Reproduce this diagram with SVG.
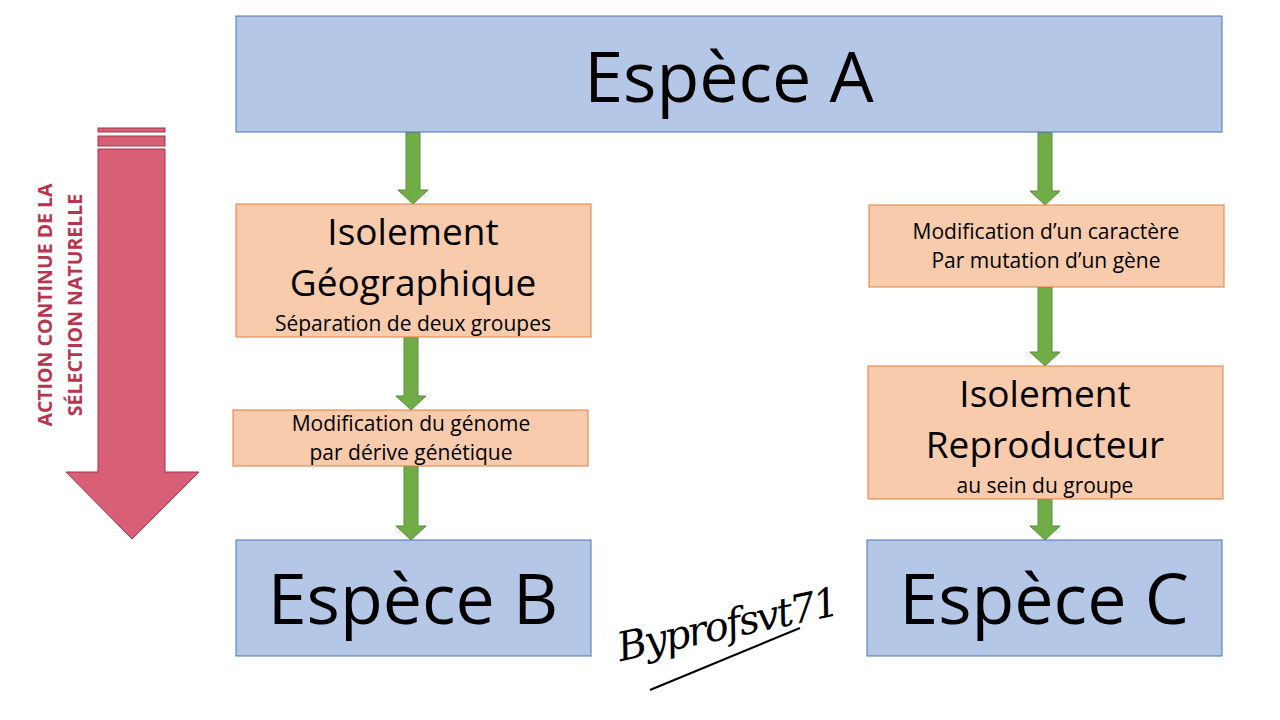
<svg xmlns="http://www.w3.org/2000/svg" width="1280" height="720" viewBox="0 0 1280 720">
<style>
.blue{fill:#b4c7e7;stroke:#4a72b8;stroke-width:1}
.orange{fill:#f8cbad;stroke:#e0803c;stroke-width:1}
text{font-family:"Open Sans","Noto Sans",sans-serif;fill:#000;text-anchor:middle}
.big{font-size:70px}
.mid{font-size:37px}
.small{font-size:21px}
.side{font-size:19.5px;font-weight:bold;fill:#b83550}
.green{fill:#70ad47;stroke:#5a8f37;stroke-width:1}
</style>
<rect width="1280" height="720" fill="#fff"/>
<g id="side-arrow">
<rect x="98" y="128" width="67" height="4" fill="#d75f76" stroke="#a8334d" stroke-width="1"/>
<rect x="98" y="136" width="67" height="10" fill="#d75f76" stroke="#a8334d" stroke-width="1"/>
<path d="M98,149 H165 V472 H199 L132,539 L66,472 H98 Z" fill="#d75f76" stroke="#a8334d" stroke-width="1"/>
<text class="side" transform="translate(52,305) rotate(-90)">ACTION CONTINUE DE LA</text>
<text class="side" transform="translate(82,305) rotate(-90)">SÉLECTION NATURELLE</text>
</g>
<g id="connectors">
<path class="green" d="M406,132 H420 V190 H428 L413,204 L398,190 H406 Z"/>
<path class="green" d="M404,337 H418 V396 H426 L411,410 L396,396 H404 Z"/>
<path class="green" d="M404,466 H418 V526 H426 L411,540 L396,526 H404 Z"/>
<path class="green" d="M1038,132 H1052 V191 H1060 L1045,205 L1030,191 H1038 Z"/>
<path class="green" d="M1038,287 H1052 V352 H1060 L1045,366 L1030,352 H1038 Z"/>
<path class="green" d="M1038,499 H1052 V526 H1060 L1045,540 L1030,526 H1038 Z"/>
</g>
<g id="espece-a">
<rect class="blue" x="236" y="16" width="986" height="116"/>
<text class="big" x="729" y="102">Espèce A</text>
</g>
<g id="isolement-geo">
<rect class="orange" x="236" y="204" width="355" height="133"/>
<text class="mid" x="413" y="245">Isolement</text>
<text class="mid" x="413" y="296">Géographique</text>
<text class="small" x="413" y="331">Séparation de deux groupes</text>
</g>
<g id="modif-genome">
<rect class="orange" x="233" y="410" width="355" height="56"/>
<text class="small" x="411" y="431">Modification du génome</text>
<text class="small" x="411" y="460">par dérive génétique</text>
</g>
<g id="espece-b">
<rect class="blue" x="236" y="540" width="355" height="116"/>
<text class="big" x="413" y="624">Espèce B</text>
</g>
<g id="modif-caractere">
<rect class="orange" x="869" y="205" width="355" height="82"/>
<text class="small" x="1046" y="239">Modification d’un caractère</text>
<text class="small" x="1046" y="268">Par mutation d’un gène</text>
</g>
<g id="isolement-repro">
<rect class="orange" x="868" y="366" width="355" height="133"/>
<text class="mid" x="1045" y="407">Isolement</text>
<text class="mid" x="1045" y="458">Reproducteur</text>
<text class="small" x="1045" y="493">au sein du groupe</text>
</g>
<g id="espece-c">
<rect class="blue" x="867" y="540" width="355" height="116"/>
<text class="big" x="1044" y="624">Espèce C</text>
</g>
<g id="signature">
<text x="730" y="638" transform="rotate(-12 730 638)" style="font-family:'DejaVu Serif',serif;font-style:italic;font-size:40px;letter-spacing:-2px">Byprofsvt71</text>
<path d="M650,690 L800,628" stroke="#000" stroke-width="2" fill="none"/>
</g>
</svg>
